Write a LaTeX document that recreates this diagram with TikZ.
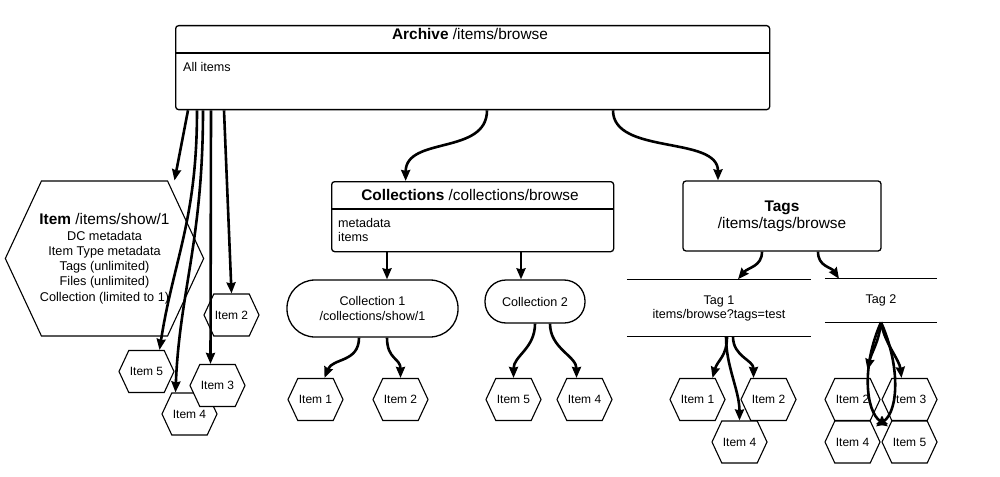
\documentclass[tikz,border=0pt]{standalone}
\usepackage{fontspec}
\setmainfont{Liberation Sans}
\usetikzlibrary{arrows.meta,shapes.symbols}
\tikzset{
panel/.style={draw, line width=1.3pt, rounded corners=3pt, inner sep=0pt},
divider/.style={line width=1.3pt},
hexitem/.style={draw, line width=1.1pt, fill=white, signal, signal to=east and west,
  signal pointer angle=130, minimum width=55pt, minimum height=42pt, inner sep=1pt,
  font=\fontsize{12}{14}\selectfont},
pill/.style={draw, line width=1.3pt, align=center, font=\fontsize{12.6}{15}\selectfont},
tagrow/.style={align=center, font=\fontsize{12.6}{14}\selectfont},
txt/.style={inner sep=0pt, font=\fontsize{12.6}{14}\selectfont},
heading/.style={font=\fontsize{15.4}{17}\selectfont},
link/.style={line width=2.6pt, -{Stealth[length=11pt,width=9pt,inset=1pt]}}
}
\newcommand*{\HexItems}[1]{% #1 = list of name/x/y/text
\foreach \name/\x/\y/\lbl in {#1} {
\node [hexitem] (\name) at (\x,\y) {\lbl};
}%
}

\begin{document}
\begin{tikzpicture}[x=1pt,y=-1pt]
\useasboundingbox (0,0) rectangle (1000,476);

% archive
\node [panel, anchor=north west, minimum width=594pt, minimum height=84pt] (archive) at (175,25) {};
\draw [divider] (archive.west |- 0,53) -- (archive.east |- 0,53);
\node [heading, inner sep=0pt, anchor=base] (archivetitle) at (470,39.5) {\textbf{Archive} /items/browse};
\node [txt, anchor=base west] (archivetext) at (183,72) {All items};

% item page and its neighbours
\node [hexitem, minimum width=197pt, minimum height=155pt, inner xsep=-2pt, align=center,
  font=\fontsize{12.7}{15.3}\selectfont] (itemshow) at (104.5,258.5)
  {{\fontsize{15.4}{16}\selectfont\textbf{Item} /items/show/1}\\[0.5pt]
   DC metadata\\Item Type metadata\\Tags (unlimited)\\Files (unlimited)\\Collection (limited to 1)};
\HexItems{ia2/231.5/315/{Item 2},ia5/146.5/371.5/{Item 5},ia4/189.5/414/{Item 4},ia3/217.5/385.5/{Item 3}}

% collections
\node [panel, anchor=north west, minimum width=282pt, minimum height=70pt] (collections) at (331,181) {};
\draw [divider] (collections.west |- 0,209) -- (collections.east |- 0,209);
\node [heading, inner sep=0pt, anchor=base] (collectionstitle) at (470,200) {\textbf{Collections} /collections/browse};
\node [txt, anchor=base west] (collectionsmeta) at (338,227) {metadata};
\node [txt, anchor=base west] (collectionsitems) at (338,241) {items};
\node [pill, rounded corners=28pt, minimum width=171pt, minimum height=57pt] (coll1) at (372.5,308.5) {Collection 1\\/collections/show/1};
\node [pill, rounded corners=21pt, minimum width=100pt, minimum height=43pt] (coll2) at (535,301.5) {Collection 2};
\HexItems{c1i1/315.5/399.5/{Item 1},c1i2/400.5/399.5/{Item 2},c2i5/513.5/399.5/{Item 5},c2i4/584.5/399.5/{Item 4}}

% tags
\node [panel, heading, align=center, minimum width=198pt, minimum height=70pt] (tags) at (782,216) {\textbf{Tags}\\/items/tags/browse};
\node [tagrow, minimum width=184pt, minimum height=57pt] (tag1) at (719,308) {Tag 1\\items/browse?tags=test};
\node [tagrow, minimum width=112pt, minimum height=43pt] (tag2) at (881,300.5) {Tag 2};
\draw [divider] (tag1.north west) -- (tag1.north east);
\draw [divider] (tag1.south west) -- (tag1.south east);
\draw [divider] (tag2.north west) -- (tag2.north east);
\draw [divider] (tag2.south west) -- (tag2.south east);
\HexItems{t1i1/697.5/399.5/{Item 1},t1i2/768.5/399.5/{Item 2},t1i4/739.5/442/{Item 4}}
\HexItems{t2i2/852.5/399.5/{Item 2},t2i3/909.5/399.5/{Item 3},t2i4/852.5/442/{Item 4},t2i5/909.5/442/{Item 5}}

% links from the archive
\draw [link] ([xshift=13pt]archive.south west) -- ([xshift=70pt]itemshow.north);
\draw [link] ([xshift=22pt]archive.south west) .. controls +(0,110) and +(14,-90) .. ([xshift=13pt]ia5.north);
\draw [link] ([xshift=28pt]archive.south west) .. controls +(0,130) and +(4,-100) .. ([xshift=-14pt]ia4.north);
\draw [link] ([xshift=36pt]archive.south west) -- ([xshift=-7pt]ia3.north);
\draw [link] ([xshift=49pt]archive.south west) -- (ia2.north);
\draw [link] ([xshift=312pt]archive.south west) .. controls +(0,45) and +(0,-45) .. ([xshift=-67pt]collections.north);
\draw [link] ([xshift=438pt]archive.south west) .. controls +(0,45) and +(0,-45) .. ([xshift=-64pt]tags.north);

% links below collections
\draw [link] ([xshift=56pt]collections.south west) -- ([xshift=14.5pt]coll1.north);
\draw [link] ([xshift=190pt]collections.south west) -- ([xshift=-14pt]coll2.north);
\draw [link] ([xshift=-13.5pt]coll1.south) .. controls +(0,25) and +(8,-20) .. ([xshift=9pt]c1i1.north);
\draw [link] ([xshift=14.5pt]coll1.south) .. controls +(0,22) and +(0,-20) .. (c1i2.north);
\draw [link] (coll2.south) .. controls +(0,25) and +(0,-22) .. (c2i5.north);
\draw [link] ([xshift=15pt]coll2.south) .. controls +(0,25) and +(0,-22) .. ([xshift=-8pt]c2i4.north);

% links below tags
\draw [link] ([xshift=-20pt]tags.south) .. controls +(0,15) and +(10,-12) .. ([xshift=19pt]tag1.north);
\draw [link] ([xshift=36pt]tags.south) .. controls +(0,15) and +(-8,-12) .. ([xshift=-42pt]tag2.north);
\draw [link] ([xshift=8pt]tag1.south) .. controls +(0,20) and +(5,-18) .. ([xshift=15pt]t1i1.north);
\draw [link] ([xshift=14pt]tag1.south) .. controls +(0,20) and +(0,-18) .. ([xshift=-15pt]t1i2.north);
\draw [link] ([xshift=7pt]tag1.south) .. controls +(0,30) and +(0,-30) .. (t1i4.north);
\draw [link] (tag2.south) .. controls +(-2,20) and +(4,-18) .. ([xshift=15pt,yshift=8pt]t2i2.north);
\draw [link] (tag2.south) .. controls +(3,20) and +(-2,-18) .. ([xshift=-8pt]t2i3.north);
\draw [link] (tag2.south) .. controls +(-20,45) and +(-22,-15) .. ([xshift=-21.5pt,yshift=-6pt]t2i5.north);
\draw [link] (tag2.south) .. controls +(20,45) and +(22,-15) .. ([xshift=23.5pt,yshift=-6pt]t2i4.north);

\end{tikzpicture}
\end{document}
